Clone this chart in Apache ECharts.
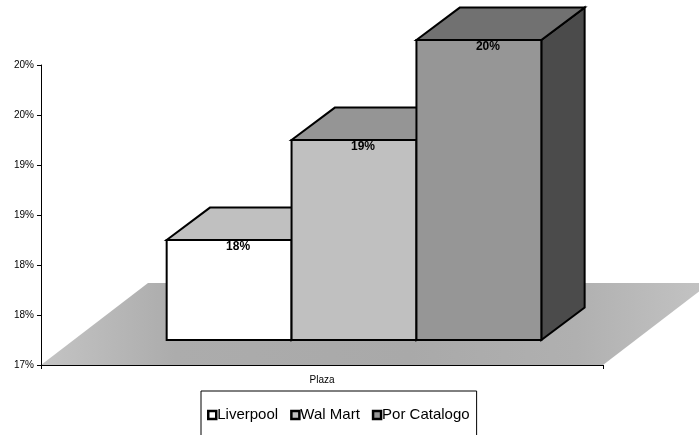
<!DOCTYPE html>
<html>
<head>
<meta charset="utf-8">
<script src="https://cdn.jsdelivr.net/npm/echarts@6/dist/echarts.min.js"></script>
<style>
  html, body { margin: 0; padding: 0; background: #ffffff; }
  #chart { width: 699px; height: 435px; }
</style>
</head>
<body>
<div id="chart"></div>
<script>
// Category and series data
const categories = ['Plaza'];
const seriesNames = ['Liverpool', 'Wal Mart', 'Por Catalogo'];
const seriesValues = [18, 19, 20];
const valueLabels = ['18%', '19%', '20%'];

// Value axis range (percent)
const yMin = 17;
const yMax = 20;
const yInterval = 0.5;

// Face colours for each box: front, top, side
const frontColors = ['#ffffff', '#c0c0c0', '#969696'];
const topColors = ['#c0c0c0', '#959595', '#717171'];
const sideColors = ['#9a9a9a', '#6e6e6e', '#4b4b4b'];

// 3D projection offsets (pixels)
const FRONT_DX = 32, FRONT_DY = -25;     // bar front plane relative to the floor's front edge
const DEPTH_DX = 43.3, DEPTH_DY = -32.4; // bar depth
const FLOOR_DX = 107, FLOOR_DY = 82;     // floor depth

const chart = echarts.init(document.getElementById('chart'), null, { renderer: 'canvas' });

function floorRender(params, api) {
  const cs = params.coordSys;
  const xl = cs.x, xr = cs.x + cs.width, yb = cs.y + cs.height;
  return {
    type: 'polygon',
    shape: {
      points: [
        [xl, yb], [xl + FLOOR_DX, yb - FLOOR_DY],
        [xr + FLOOR_DX, yb - FLOOR_DY], [xr, yb]
      ]
    },
    style: {
      fill: {
        type: 'linear', x: 0, y: 0, x2: 1, y2: 0,
        colorStops: [
          { offset: 0, color: '#c4c4c4' },
          { offset: 0.2, color: '#acacac' },
          { offset: 0.55, color: '#a9a9a9' },
          { offset: 0.8, color: '#b0b0b0' },
          { offset: 1, color: '#c4c4c4' }
        ]
      },
      stroke: null
    }
  };
}

function barRender(i) {
  return function (params, api) {
    const base = api.coord([api.value(0), yMin]);
    const top = api.coord([api.value(0), api.value(1)]);
    const band = api.size([1, 0])[0];
    const w = band * 2 / 9;
    const x0 = base[0] - 1.5 * w + i * w + FRONT_DX;
    const x1 = x0 + w;
    const yb = base[1] + FRONT_DY;
    const yt = top[1] + FRONT_DY;
    const edge = { stroke: '#000000', lineWidth: 2, lineJoin: 'miter' };
    return {
      type: 'group',
      children: [
        {
          type: 'polygon',
          shape: { points: [[x1, yt], [x1 + DEPTH_DX, yt + DEPTH_DY], [x1 + DEPTH_DX, yb + DEPTH_DY], [x1, yb]] },
          style: Object.assign({ fill: sideColors[i] }, edge)
        },
        {
          type: 'polygon',
          shape: { points: [[x0, yt], [x0 + DEPTH_DX, yt + DEPTH_DY], [x1 + DEPTH_DX, yt + DEPTH_DY], [x1, yt]] },
          style: Object.assign({ fill: topColors[i] }, edge)
        },
        {
          type: 'polygon',
          shape: { points: [[x0, yt], [x1, yt], [x1, yb], [x0, yb]] },
          style: Object.assign({ fill: frontColors[i] }, edge)
        },
        {
          type: 'text',
          style: {
            x: (x0 + x1) / 2 + 9,
            y: yt + 7,
            text: valueLabels[i],
            fill: '#000000',
            font: 'bold 12px "Liberation Sans", Arial, sans-serif',
            align: 'center',
            verticalAlign: 'middle'
          }
        }
      ]
    };
  };
}

const series = [
  {
    type: 'custom',
    name: 'floor',
    renderItem: floorRender,
    data: [[0, yMin]],
    silent: true,
    z: 1
  }
];
seriesNames.forEach(function (name, i) {
  series.push({
    type: 'custom',
    name: name,
    renderItem: barRender(i),
    data: [[0, seriesValues[i]]],
    encode: { x: 0, y: 1 },
    itemStyle: { color: frontColors[i], borderColor: '#000000', borderWidth: 2.5 },
    z: 2 + i
  });
});

chart.setOption({
  animation: false,
  backgroundColor: '#ffffff',
  grid: { left: 41, right: 96, top: 65, bottom: 70, containLabel: false },
  xAxis: {
    type: 'category',
    data: categories,
    z: 10,
    axisLine: { lineStyle: { color: '#000000', width: 1 } },
    axisTick: { show: true, length: 4, lineStyle: { color: '#000000' } },
    axisLabel: { color: '#000000', fontSize: 10, fontFamily: '"Liberation Sans", Arial, sans-serif', margin: 10 }
  },
  yAxis: {
    type: 'value',
    min: yMin,
    max: yMax,
    interval: yInterval,
    z: 10,
    axisLine: { show: true, lineStyle: { color: '#000000', width: 1 } },
    axisTick: { show: true, length: 4, lineStyle: { color: '#000000' } },
    splitLine: { show: false },
    axisLabel: {
      color: '#000000',
      fontSize: 10,
      fontFamily: '"Liberation Sans", Arial, sans-serif',
      margin: 7,
      formatter: function (v) { return Math.round(v) + '%'; }
    }
  },
  legend: {
    data: seriesNames,
    left: 201,
    top: 391,
    orient: 'horizontal',
    icon: 'rect',
    itemWidth: 8,
    itemHeight: 8,
    itemGap: 12,
    padding: [16, 7, 40, 6],
    borderColor: '#000000',
    borderWidth: 1,
    backgroundColor: '#ffffff',
    itemStyle: { borderColor: '#000000', borderWidth: 2.5 },
    textStyle: {
      color: '#000000',
      fontSize: 15,
      lineHeight: 16,
      fontFamily: '"Liberation Sans", Arial, sans-serif',
      padding: [0, 0, 0, -4]
    }
  },
  series: series
});
</script>
</body>
</html>
